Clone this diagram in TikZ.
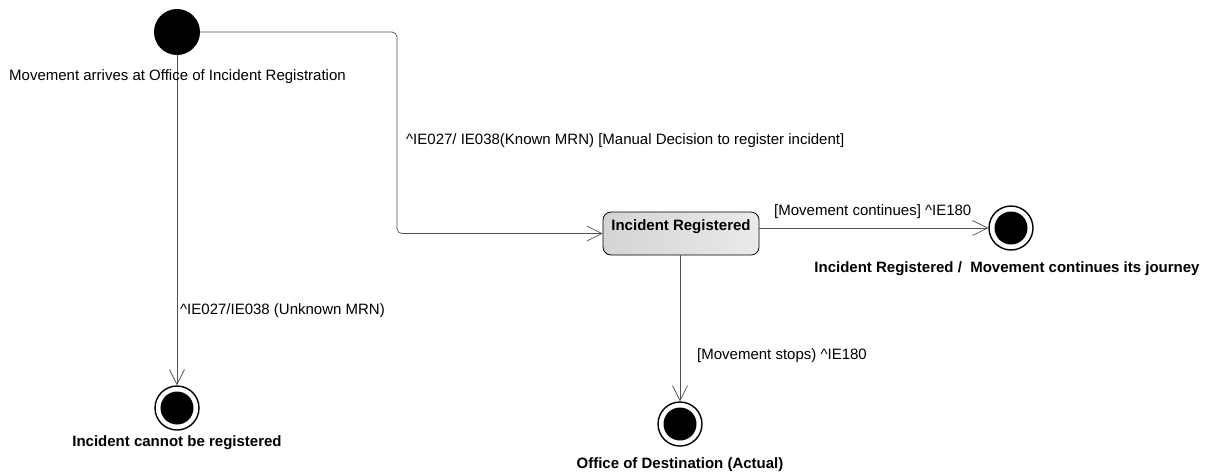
\documentclass[tikz,border=0pt]{standalone}
\usepackage{fontspec}
\setmainfont{Liberation Sans}
\usetikzlibrary{arrows.meta}
\definecolor{linegray}{RGB}{80,80,80}
\definecolor{boxL}{RGB}{212,212,212}
\definecolor{boxR}{RGB}{234,234,234}
\begin{document}
\begin{tikzpicture}[x=1pt,y=-1pt,
  every node/.style={font=\fontsize{15}{17}\selectfont},
  initst/.style={circle,fill=black,minimum size=46pt,inner sep=0pt},
  finalst/.style={circle,draw=black,line width=1.4pt,fill=white,minimum size=44pt,inner sep=0pt,
     path picture={\fill[black] (path picture bounding box.center) circle (16.5pt);}},
  statebox/.style={rectangle,rounded corners=8pt,draw=black,line width=0.8pt,left color=boxL,right color=boxR,
     minimum width=156pt,text height=10.5pt,text depth=16.5pt,inner ysep=8pt,font=\fontsize{15}{17}\selectfont\bfseries},
  trans/.style={draw=linegray,line width=0.7pt,-{Straight Barb[length=15pt,width=15pt,line width=0.7pt]}},
  lbl/.style={inner sep=0pt,anchor=west},
  caption/.style={inner sep=0pt,font=\fontsize{15}{17}\selectfont\bfseries}
]
\useasboundingbox (0,0) rectangle (1205,475);
\node[initst] (init) at (177,32) {};
\node[statebox] (reg) at (681,233.5) {Incident Registered};
\node[finalst] (fcont) at (1011,228) {};
\node[finalst] (fstop) at (680,424) {};
\node[finalst] (fno) at (177,408) {};
\coordinate (c1) at (397,32);
\coordinate (c2) at (397,233.5);

\draw[trans,rounded corners=5pt] (init.east) -- (c1) -- (c2) -- (reg.west);
\draw[trans] (init.center) ++(0,23) -- (fno.north);
\draw[trans] (reg.east |- fcont) -- (fcont.west);
\draw[trans] (reg.south -| fstop) -- (fstop.north);

\node[lbl] (l0) at (9,76.5) {Movement arrives at Office of Incident Registration};
\node[lbl] (l1) at (406,141) {\textasciicircum IE027/ IE038(Known MRN) [Manual Decision to register incident]};
\node[lbl] (l2) at (774,212) {[Movement continues] \textasciicircum IE180};
\node[lbl] (l3) at (180,311) {\textasciicircum IE027/IE038 (Unknown MRN)};
\node[lbl] (l4) at (697,356) {[Movement stops) \textasciicircum IE180};
\node[caption] (k1) at (1007,269) {Incident Registered /\ \ Movement continues its journey};
\node[caption] (k2) at (177,443) {Incident cannot be registered};
\node[caption] (k3) at (680,465) {Office of Destination (Actual)};
\end{tikzpicture}
\end{document}
